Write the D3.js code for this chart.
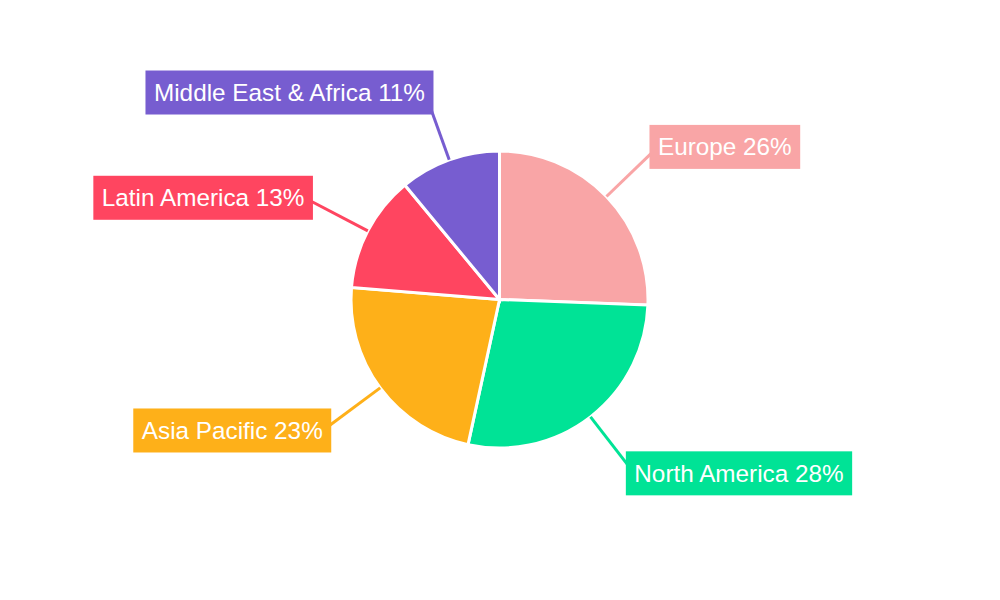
<!DOCTYPE html>
<html>
<head>
<meta charset="utf-8">
<script src="https://cdn.jsdelivr.net/npm/d3@7"></script>
<style>
  html, body { margin: 0; padding: 0; background: #fff; }
  svg { display: block; }
  text { font-family: "Liberation Sans", Arial, sans-serif; }
</style>
</head>
<body>
<svg id="chart" width="1000" height="600"></svg>
<script>
const categories = ["Europe", "North America", "Asia Pacific", "Latin America", "Middle East & Africa"];
const values = [25.6, 27.8, 22.9, 12.7, 11.0];
const colors = ["#F9A5A6", "#00E396", "#FEB019", "#FF4560", "#775DD0"];

const svg = d3.select("#chart");
const cx = 499.5, cy = 299.5;
const radius = 148.5, labelR = 220;

const data = categories.map((c, i) => ({ name: c, value: values[i], color: colors[i] }));
const total = d3.sum(values);

const pie = d3.pie().value(d => d.value).sort(null);
const arcs = pie(data);
const arc = d3.arc().innerRadius(0).outerRadius(radius);

const g = svg.append("g").attr("transform", `translate(${cx},${cy})`);

g.selectAll("path.slice").data(arcs).enter().append("path")
  .attr("class", "slice")
  .attr("d", arc)
  .attr("fill", d => d.data.color)
  .attr("stroke", "#fff")
  .attr("stroke-width", 3);

const pt = (a, r) => [r * Math.sin(a), -r * Math.cos(a)];

arcs.forEach(d => {
  const mid = (d.startAngle + d.endAngle) / 2;
  const p0 = pt(mid, radius);
  const p1 = pt(mid, labelR);
  const right = Math.sin(mid) >= 0;

  g.append("line")
    .attr("x1", p0[0]).attr("y1", p0[1])
    .attr("x2", p1[0]).attr("y2", p1[1])
    .attr("stroke", d.data.color)
    .attr("stroke-width", 3);

  const lg = g.append("g");
  const rect = lg.append("rect").attr("fill", d.data.color);
  const t = lg.append("text")
    .attr("x", p1[0]).attr("y", p1[1])
    .attr("text-anchor", right ? "start" : "end")
    .attr("dominant-baseline", "central")
    .attr("fill", "#fff")
    .attr("font-size", 24.3)
    .text(`${d.data.name} ${Math.round(d.data.value / total * 100)}%`);
  const w = t.node().getComputedTextLength();
  const padX = 8.5, h = 44;
  const x0 = right ? p1[0] - padX : p1[0] - w - padX;
  rect.attr("x", x0).attr("y", p1[1] - h / 2)
    .attr("width", w + 2 * padX).attr("height", h);
});
</script>
</body>
</html>
